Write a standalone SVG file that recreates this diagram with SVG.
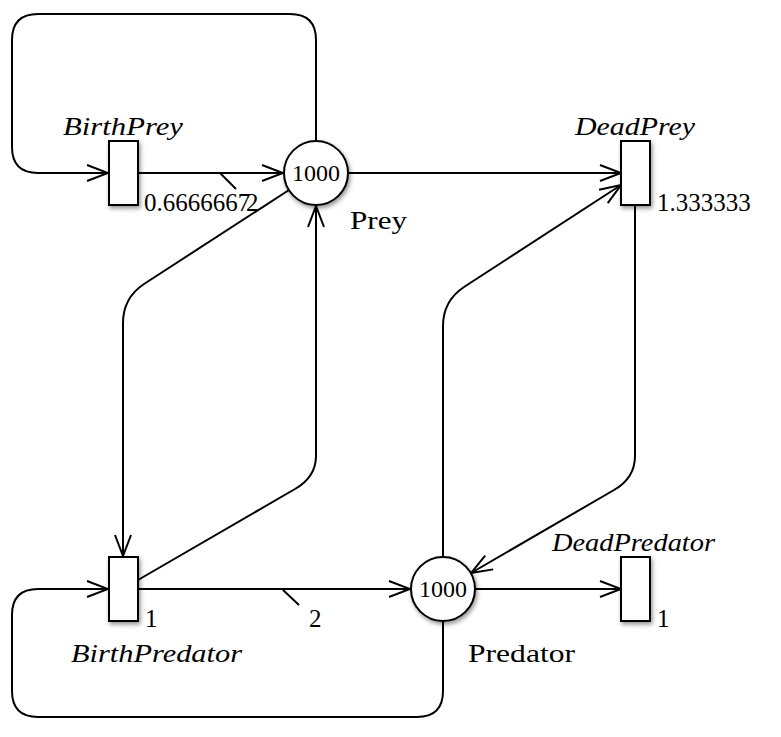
<svg xmlns="http://www.w3.org/2000/svg" width="781" height="737" viewBox="0 0 781 737">
<defs>
<filter id="sh" x="-50%" y="-50%" width="200%" height="200%">
<feDropShadow dx="1.5" dy="2.5" stdDeviation="2.2" flood-color="#000" flood-opacity="0.42"/>
</filter>
<marker id="arr" viewBox="-23 -10 25 20" refX="0" refY="0" markerWidth="25" markerHeight="20" markerUnits="userSpaceOnUse" orient="auto">
<path d="M-21,-8 L0,0 L-21,8" fill="none" stroke="#000" stroke-width="2"/>
</marker>
</defs>
<style>
.e{fill:none;stroke:#000;stroke-width:2}
.n{fill:#fff;stroke:#000;stroke-width:2;filter:url(#sh)}
text{font-family:"Liberation Serif","Times New Roman",serif;font-size:25px;fill:#000}
.it{font-style:italic}
.tok{font-size:24px;text-anchor:middle}
</style>
<g id="connectors">
<path class="e" d="M316,141 V40 Q316,14 290,14 H38 Q12,14 12,40 V147 Q12,173 38,173 H108" marker-end="url(#arr)"/>
<path class="e" d="M138,173 H283" marker-end="url(#arr)"/>
<path class="e" d="M220,173 L236,189"/>
<path class="e" d="M348,173 H621" marker-end="url(#arr)"/>
<path class="e" d="M289,190 L144,284 Q123,298 123,323 V556" marker-end="url(#arr)"/>
<path class="e" d="M138,580 L295,489 Q316,477 316,456 V206" marker-end="url(#arr)"/>
<path class="e" d="M138,589 H410" marker-end="url(#arr)"/>
<path class="e" d="M283,590 L299,605"/>
<path class="e" d="M443,557 V326 Q443,301 464,287 L621,185" marker-end="url(#arr)"/>
<path class="e" d="M635,205 V456 Q635,478 614,490 L471,573" marker-end="url(#arr)"/>
<path class="e" d="M475,589 H621" marker-end="url(#arr)"/>
<path class="e" d="M443,621 V691 Q443,717 417,717 H38 Q12,717 12,691 V615 Q12,589 38,589 H108" marker-end="url(#arr)"/>
</g>
<g id="Prey">
<circle class="n" cx="316" cy="173" r="32"/>
<text class="tok" x="316" y="181">1000</text>
<text x="350" y="229" textLength="57" lengthAdjust="spacingAndGlyphs">Prey</text>
</g>
<g id="Predator">
<circle class="n" cx="443" cy="589" r="32"/>
<text class="tok" x="443" y="597">1000</text>
<text x="468" y="662" textLength="107" lengthAdjust="spacingAndGlyphs">Predator</text>
</g>
<g id="BirthPrey">
<rect class="n" x="109" y="141" width="29" height="64"/>
<text class="it" x="63" y="135" textLength="120" lengthAdjust="spacingAndGlyphs">BirthPrey</text>
<text x="144" y="211">0.6666667</text>
<text x="246" y="211">2</text>
</g>
<g id="DeadPrey">
<rect class="n" x="621" y="141" width="29" height="64"/>
<text class="it" x="575" y="135" textLength="120" lengthAdjust="spacingAndGlyphs">DeadPrey</text>
<text x="657" y="211">1.333333</text>
</g>
<g id="BirthPredator">
<rect class="n" x="109" y="557" width="29" height="64"/>
<text class="it" x="71" y="662" textLength="171" lengthAdjust="spacingAndGlyphs">BirthPredator</text>
<text x="145" y="627">1</text>
<text x="309" y="627">2</text>
</g>
<g id="DeadPredator">
<rect class="n" x="621" y="557" width="29" height="64"/>
<text class="it" x="552" y="551" textLength="163" lengthAdjust="spacingAndGlyphs">DeadPredator</text>
<text x="657" y="627">1</text>
</g>
</svg>
